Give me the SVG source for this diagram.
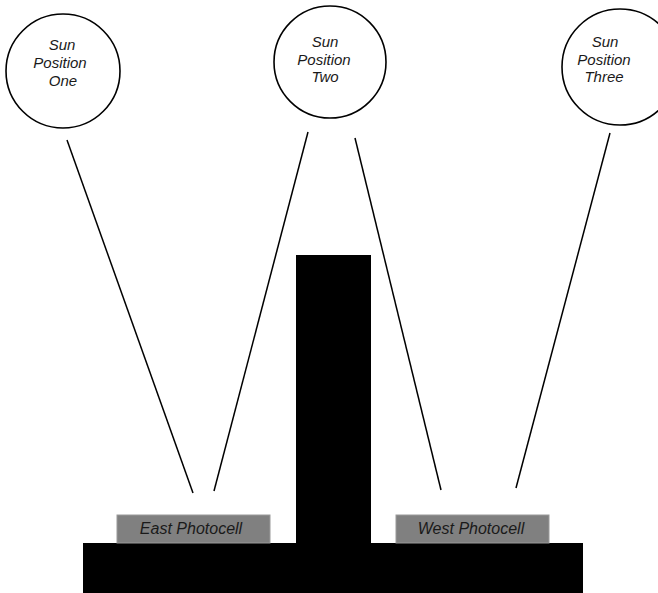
<svg xmlns="http://www.w3.org/2000/svg" width="658" height="593" viewBox="0 0 658 593">
<style>
.sun{fill:#fff;stroke:#000;stroke-width:1.6}
.lbl{font-family:"Liberation Sans",Arial,sans-serif;font-style:italic;font-size:15px;fill:#1a1a1a;text-anchor:middle}
.cell{fill:#808080;stroke:#9a9a9a;stroke-width:1}
.cl{font-family:"Liberation Sans",Arial,sans-serif;font-style:italic;font-size:16px;fill:#1a1a1a;text-anchor:middle}
.ray{stroke:#000;stroke-width:1.5;fill:none}
</style>
<rect width="658" height="593" fill="#fff"/>
<g id="connectors">
<line class="ray" x1="67" y1="140" x2="193" y2="493"/>
<line class="ray" x1="308" y1="132" x2="214" y2="491"/>
<line class="ray" x1="355" y1="138" x2="441" y2="490"/>
<line class="ray" x1="610" y1="133" x2="516" y2="488"/>
</g>
<g id="sun1">
<circle class="sun" cx="63" cy="71" r="57"/>
<text class="lbl" x="62" y="50">Sun</text>
<text class="lbl" x="60" y="68">Position</text>
<text class="lbl" x="63" y="86">One</text>
</g>
<g id="sun2">
<circle class="sun" cx="330" cy="62" r="56"/>
<text class="lbl" x="325" y="47">Sun</text>
<text class="lbl" x="324" y="65">Position</text>
<text class="lbl" x="325" y="82">Two</text>
</g>
<g id="sun3">
<circle class="sun" cx="620" cy="67" r="58"/>
<text class="lbl" x="605" y="47">Sun</text>
<text class="lbl" x="604" y="65">Position</text>
<text class="lbl" x="604" y="82">Three</text>
</g>
<g id="base">
<rect x="296" y="255" width="75" height="290" fill="#000"/>
<rect x="83" y="543" width="500" height="50" fill="#000"/>
</g>
<g id="east">
<rect class="cell" x="117" y="515" width="153" height="28"/>
<text class="cl" x="191" y="534">East Photocell</text>
</g>
<g id="west">
<rect class="cell" x="396" y="515" width="153" height="28"/>
<text class="cl" x="471" y="534">West Photocell</text>
</g>
</svg>
